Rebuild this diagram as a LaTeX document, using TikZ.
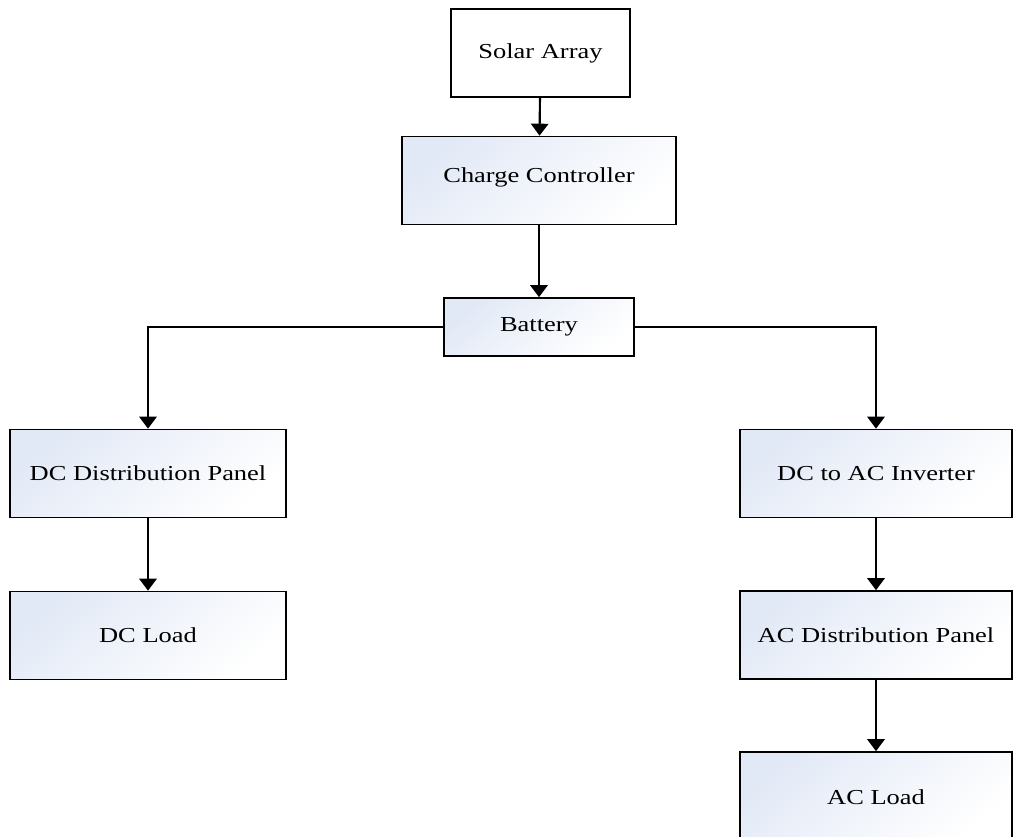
\documentclass[tikz,border=0pt]{standalone}
\usepackage{fontspec}
\usepackage{graphicx}
\setmainfont{Liberation Serif}
\usetikzlibrary{arrows.meta}

% box text: Times-like serif, widened horizontally
\newcommand{\boxtext}[1]{\scalebox{1.24}[1]{\fontsize{16pt}{19pt}\selectfont #1}}

\definecolor{boxblue}{RGB}{226,233,246}

\tikzset{
  plainbox/.style={draw=black, line width=1.2pt, fill=white, inner sep=0pt,
                   minimum height=66pt},
  shadedbox/.style={plainbox, top color=boxblue, bottom color=white, shading angle=40},
  flow/.style={line width=1.6pt, -{Triangle[length=9pt,width=13pt]}}
}

\begin{document}
\begin{tikzpicture}[x=0.75pt, y=-0.75pt]
  \useasboundingbox (0,0) rectangle (1013,837);

  % supply chain
  \node[plainbox, minimum width=134.25pt] (solar) at (540.5,53) {\boxtext{Solar Array}};
  \node[shadedbox, minimum width=205.5pt] (charge) at (539,180.5) {\raisebox{8pt}{\boxtext{Charge Controller}}};
  \node[shadedbox, minimum width=142.5pt, minimum height=43.5pt] (battery) at (539,327) {\boxtext{Battery}};

  % DC branch
  \node[shadedbox, minimum width=207pt] (dcpanel) at (148,473.5) {\boxtext{DC Distribution Panel}};
  \node[shadedbox, minimum width=207pt] (dcload) at (148,635.5) {\boxtext{DC Load}};

  % AC branch
  \node[shadedbox, minimum width=204pt] (inverter) at (876,473.5) {\boxtext{DC to AC Inverter}};
  \node[shadedbox, minimum width=204pt] (acpanel) at (876,635) {\boxtext{AC Distribution Panel}};
  \node[shadedbox, minimum width=204pt, minimum height=67.5pt] (acload) at (876,797) {\boxtext{AC Load}};

  % connectors
  \draw[flow] (solar) -- (charge);
  \draw[flow] (charge) -- (battery);
  \draw[flow] (battery.west) -| (dcpanel.north);
  \draw[flow] (battery.east) -| (inverter.north);
  \draw[flow] (dcpanel) -- (dcload);
  \draw[flow] (inverter) -- (acpanel);
  \draw[flow] (acpanel) -- (acload);
\end{tikzpicture}
\end{document}
